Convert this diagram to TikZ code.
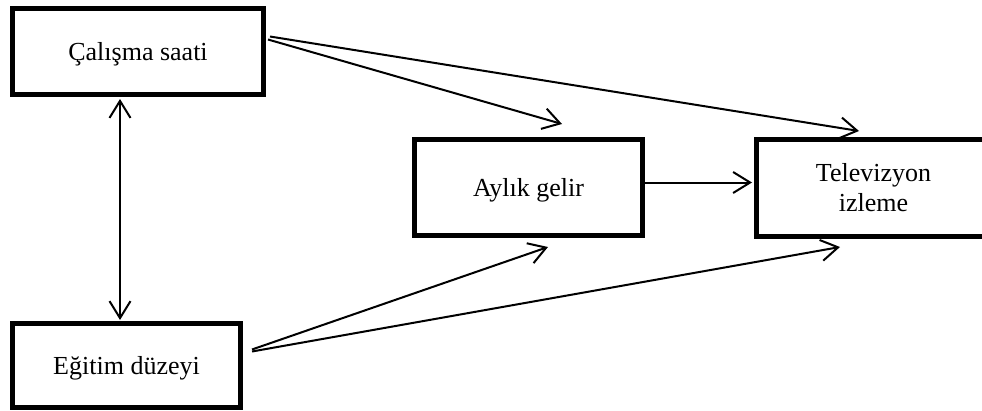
\documentclass[tikz,border=0pt]{standalone}
\usepackage{fontspec}
\setmainfont{Liberation Serif}
\usetikzlibrary{arrows.meta}
\begin{document}
\begin{tikzpicture}[x=1pt,y=-1pt,
  box/.style={draw,line width=5pt,rectangle,inner sep=0pt,align=center,
    font=\fontsize{26}{30}\selectfont},
  oneline/.style={text height=18pt,text depth=0pt},
  conn/.style={line width=2pt,-{Straight Barb[length=17pt,width=21pt,line width=2pt]}},
  biconn/.style={line width=2pt,{Straight Barb[length=17pt,width=21pt,line width=2pt]}-{Straight Barb[length=17pt,width=21pt,line width=2pt]}}]
\clip (0,0) rectangle (982,410);
\fill[white] (0,0) rectangle (982,410);
\node[box,oneline,minimum width=251pt,minimum height=86pt] (cs) at (138,51.5) {Çalışma saati};
\node[box,oneline,minimum width=228pt,minimum height=96pt] (ag) at (528.5,187.5) {Aylık gelir};
\node[box,minimum width=234pt,minimum height=97pt] (tv) at (873.5,187.5) {Televizyon\\izleme};
\node[box,oneline,minimum width=228pt,minimum height=84pt] (ed) at (126.5,365.5) {Eğitim düzeyi};
\coordinate (t1) at (562,124);
\coordinate (t2) at (859,131);
\coordinate (t3) at (548,247);
\coordinate (t4) at (840,247);
\draw[conn] ([shift={(2,-12)}]cs.east) -- (t1);
\draw[conn] ([shift={(4,-15)}]cs.east) -- (t2);
\draw[conn] ([shift={(9,-16)}]ed.east) -- (t3);
\draw[conn] ([shift={(9,-14)}]ed.east) -- (t4);
\draw[conn] ([shift={(0,-5)}]ag.east) -- ([shift={(-2,-5)}]tv.west);
\draw[biconn] ([shift={(-18,2)}]cs.south) -- ([shift={(-6.5,-1)}]ed.north);
\end{tikzpicture}
\end{document}
